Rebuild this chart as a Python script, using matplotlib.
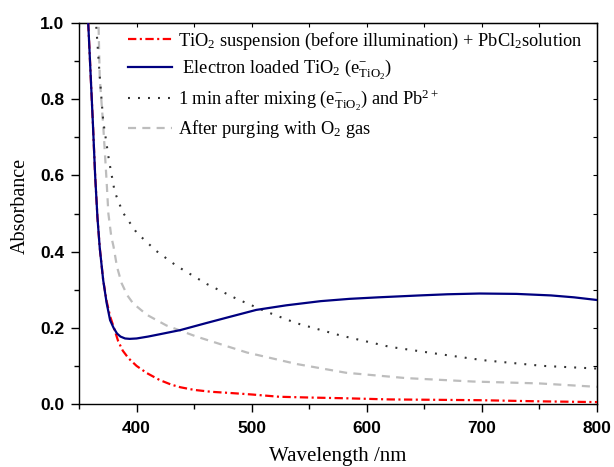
import matplotlib
matplotlib.use("Agg")
import matplotlib.pyplot as plt
from matplotlib.ticker import MultipleLocator

plt.rcParams["lines.scale_dashes"] = False
plt.rcParams["mathtext.fontset"] = "custom"
plt.rcParams["mathtext.rm"] = "Liberation Serif"
plt.rcParams["mathtext.it"] = "Liberation Serif:italic"
plt.rcParams["mathtext.bf"] = "Liberation Serif:bold"

# values (wavelength in nm, absorbance)
wl_before = [358, 360, 362, 364, 366, 368, 371, 374, 377, 380, 384, 388, 393,
             400, 409, 420, 430, 438, 450, 465, 481, 500, 524, 550, 582, 620,
             660, 698, 750, 800]
abs_before = [1.0, 0.87, 0.74, 0.60, 0.49, 0.41, 0.325, 0.27, 0.23, 0.203,
              0.165, 0.14, 0.12, 0.10, 0.081, 0.063, 0.051, 0.044, 0.037,
              0.032, 0.029, 0.025, 0.019, 0.017, 0.015, 0.012, 0.011, 0.010,
              0.007, 0.005]

wl_loaded = [358, 360, 362, 364, 366, 368, 371, 374, 377, 380, 383, 386, 390,
             394, 400, 410, 420, 438, 460, 480, 504, 530, 560, 585, 610, 646,
             670, 698, 730, 760, 780, 800]
abs_loaded = [1.0, 0.87, 0.74, 0.60, 0.49, 0.41, 0.325, 0.265, 0.22, 0.20,
              0.185, 0.177, 0.172, 0.171, 0.172, 0.177, 0.183, 0.194, 0.212,
              0.228, 0.247, 0.259, 0.270, 0.276, 0.280, 0.285, 0.288, 0.290,
              0.289, 0.285, 0.280, 0.273]

wl_mixed = [365, 368, 371, 376, 381, 388, 400, 417, 435, 461, 487, 513, 539,
            577, 620, 663, 701, 753, 800]
abs_mixed = [0.99, 0.86, 0.743, 0.64, 0.557, 0.503, 0.45, 0.402, 0.362, 0.315,
             0.276, 0.242, 0.212, 0.18, 0.15, 0.131, 0.115, 0.10, 0.093]

wl_purged = [367, 368, 371, 374, 375.5, 378, 380, 383, 387, 392, 397, 409, 426,
             452, 475, 496, 539, 582, 634, 692, 750, 800]
abs_purged = [0.99, 0.856, 0.732, 0.583, 0.50, 0.44, 0.413, 0.36, 0.317, 0.285,
              0.264, 0.234, 0.206, 0.177, 0.155, 0.135, 0.105, 0.082, 0.068,
              0.059, 0.054, 0.045]

labels = [
    r"TiO$_2$ suspension (before illumination) + PbCl$_2$solution",
    r" Electron loaded TiO$_2$ (e$^{-}_{\mathrm{TiO_2}}$)",
    r"1 min after mixing (e$^{-}_{\mathrm{TiO_2}}$) and Pb$^{2+}$",
    r"After purging with O$_2$ gas",
]

fig = plt.figure(figsize=(6.14, 4.67), dpi=100)
ax = fig.add_axes([0.1287, 0.1349, 0.8436, 0.8158])

ax.plot(wl_before, abs_before, color="#ff0000", linewidth=1.6,
        linestyle=(0, (6, 2.5, 1.5, 2.5)), label=labels[0], zorder=3)
ax.plot(wl_loaded, abs_loaded, color="#000080", linewidth=1.6,
        label=labels[1], zorder=4)
ax.plot(wl_mixed, abs_mixed, color="#333333", linewidth=1.5,
        linestyle=(0, (1.4, 5.8)), label=labels[2], zorder=2)
ax.plot(wl_purged, abs_purged, color="#bdbdbd", linewidth=1.6,
        linestyle=(0, (5.8, 4.5)), label=labels[3], zorder=1)

ax.set_xlim(350, 800)
ax.set_ylim(0, 1.0)
ax.xaxis.set_major_locator(MultipleLocator(100))
ax.xaxis.set_minor_locator(MultipleLocator(50))
ax.yaxis.set_major_locator(MultipleLocator(0.2))
ax.yaxis.set_minor_locator(MultipleLocator(0.1))
ax.tick_params(which="major", direction="out", length=5.5, width=1)
ax.tick_params(which="minor", direction="out", length=3.5, width=1)
ax.tick_params(axis="x", which="major", pad=7)
ax.tick_params(axis="y", which="major", pad=5)
for lab in ax.get_xticklabels() + ax.get_yticklabels():
    lab.set_fontfamily("Liberation Sans")
    lab.set_fontweight("bold")
    lab.set_fontsize(12.5)
for s in ax.spines.values():
    s.set_linewidth(1)

# inward ticks on top and right, no labels
top = ax.secondary_xaxis("top")
top.xaxis.set_major_locator(MultipleLocator(50))
top.tick_params(direction="in", length=3, labeltop=False)
right = ax.secondary_yaxis("right")
right.yaxis.set_major_locator(MultipleLocator(0.1))
right.tick_params(direction="in", length=3, labelright=False)

ax.set_xlabel("Wavelength /nm", fontfamily="Liberation Serif", fontsize=15,
              labelpad=8)
ax.set_ylabel("Absorbance", fontfamily="Liberation Serif", fontsize=14.5)
ax.yaxis.set_label_coords(-0.095, 0.52)

leg = ax.legend(loc="upper left", bbox_to_anchor=(0.0946, 0.98), frameon=False,
                prop={"family": "Liberation Serif", "size": 13.2},
                handlelength=2.4, handletextpad=0.33, labelspacing=0.3,
                borderpad=0, borderaxespad=0)

fig.savefig("out.png", dpi=100, facecolor="white")
